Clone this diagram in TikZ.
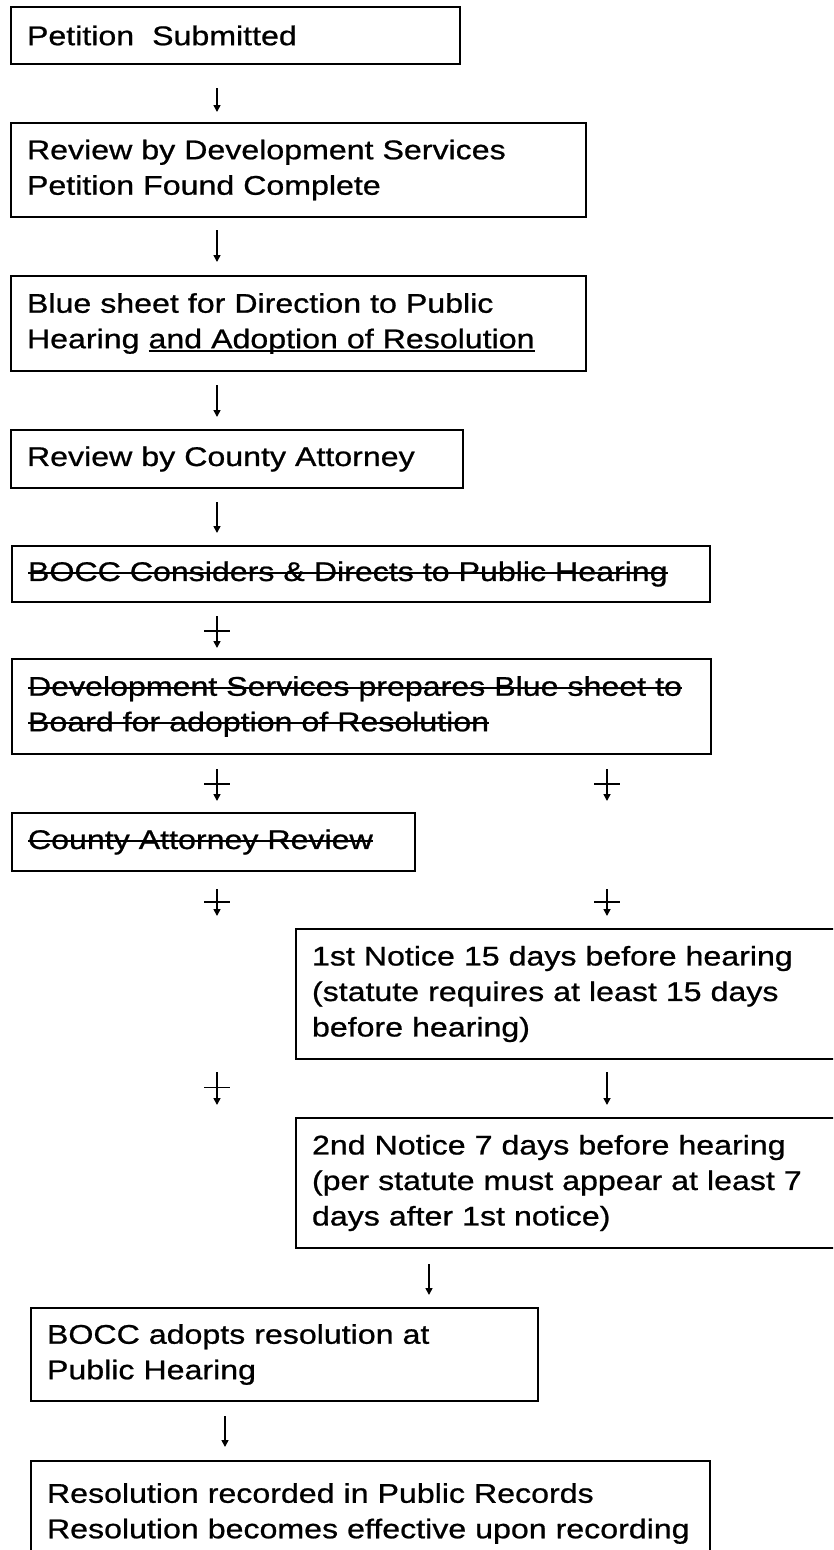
\documentclass[tikz,border=0pt]{standalone}
\usepackage{fontspec}
\setmainfont{Liberation Sans}[FakeStretch=1.19,FakeBold=0.8]
\usetikzlibrary{arrows.meta,calc,decorations.markings}

\newsavebox\strkbox
\newcommand\strk[1]{\leavevmode\sbox\strkbox{#1}\rlap{\usebox\strkbox}\rule[.26em]{\wd\strkbox}{1.8pt}}
\newcommand\undl[1]{\leavevmode\sbox\strkbox{#1}\rlap{\usebox\strkbox}\rule[-.13em]{\wd\strkbox}{1.8pt}}

\begin{document}
\begin{tikzpicture}[x=1pt,y=-1pt,
  stage/.style={draw,line width=2.8pt,anchor=north west,outer sep=0pt,
    inner xsep=16pt,inner ysep=0pt,align=left,
    font=\fontsize{27}{35.5}\selectfont},
  arr/.style={line width=1.6pt,-{Triangle[length=7pt,width=7pt]}},
  cut/.style={arr,postaction={decorate},decoration={markings,
    mark=at position .47 with {\draw[-,line width=1.6pt] (0pt,-13pt)--(0pt,13pt);}}}]
\fill[white] (0,0) rectangle (833,1550);
\useasboundingbox (0,0) rectangle (833,1550);
\clip (0,0) rectangle (833,1550);
\coordinate (colL) at (217,0);
\coordinate (colR) at (607,0);
\coordinate (colM) at (429,0);
\coordinate (colB) at (225,0);
\node[stage,text width=417pt,minimum height=57pt] (b1) at (11,7) {Petition\ \ Submitted};
\node[stage,text width=543pt,minimum height=94pt] (b2) at (11,123)
  {Review by Development Services\\Petition Found Complete};
\node[stage,text width=543pt,minimum height=95pt] (b3) at (11,276)
  {Blue sheet for Direction to Public\\Hearing \undl{and Adoption of Resolution}};
\node[stage,text width=420pt,minimum height=58pt] (b4) at (11,430) {Review by County Attorney};
\node[stage,text width=666pt,minimum height=56pt] (b5) at (12,546)
  {\strk{BOCC Considers \& Directs to Public Hearing}};
\node[stage,text width=667pt,minimum height=95pt] (b6) at (12,659)
  {\strk{Development Services prepares Blue sheet to}\\\strk{Board for adoption of Resolution}};
\node[stage,text width=371pt,minimum height=58pt] (b7) at (12,813) {\strk{County Attorney Review}};
\node[stage,text width=552pt,minimum height=130pt] (b8) at (296,929)
  {1st Notice 15 days before hearing\\(statute requires at least 15 days\\before hearing)};
\node[stage,text width=552pt,minimum height=130pt] (b9) at (296,1118)
  {2nd Notice 7 days before hearing\\(per statute must appear at least 7\\days after 1st notice)};
\node[stage,text width=475pt,minimum height=93pt] (b10) at (31,1308)
  {BOCC adopts resolution at\\Public Hearing};
\node[stage,text width=647pt,minimum height=105pt] (b11) at (31,1461)
  {Resolution recorded in Public Records\\Resolution becomes effective upon recording};
\draw[arr] ($(b1.south -| colL)+(0,24)$) -- ($(b2.north -| colL)+(0,-11)$);
\draw[arr] ($(b2.south -| colL)+(0,13)$) -- ($(b3.north -| colL)+(0,-14)$);
\draw[arr] ($(b3.south -| colL)+(0,14)$) -- ($(b4.north -| colL)+(0,-13)$);
\draw[arr] ($(b4.south -| colL)+(0,14)$) -- ($(b5.north -| colL)+(0,-13)$);
\draw[cut] ($(b5.south -| colL)+(0,14)$) -- ($(b6.north -| colL)+(0,-11)$);
\draw[cut] ($(b6.south -| colL)+(0,15)$) -- ($(b7.north -| colL)+(0,-12)$);
\draw[cut] ($(b6.south -| colR)+(0,15)$) -- ($(b7.north -| colR)+(0,-12)$);
\draw[cut] ($(b7.south -| colL)+(0,18)$) -- ($(b8.north -| colL)+(0,-13)$);
\draw[cut] ($(b7.south -| colR)+(0,18)$) -- ($(b8.north -| colR)+(0,-13)$);
\draw[cut] ($(b8.south -| colL)+(0,13)$) -- ($(b9.north -| colL)+(0,-13)$);
\draw[arr] ($(b8.south -| colR)+(0,13)$) -- ($(b9.north -| colR)+(0,-13)$);
\draw[arr] ($(b9.south -| colM)+(0,16)$) -- ($(b10.north -| colM)+(0,-13)$);
\draw[arr] ($(b10.south -| colB)+(0,15)$) -- ($(b11.north -| colB)+(0,-14)$);
\end{tikzpicture}
\end{document}
